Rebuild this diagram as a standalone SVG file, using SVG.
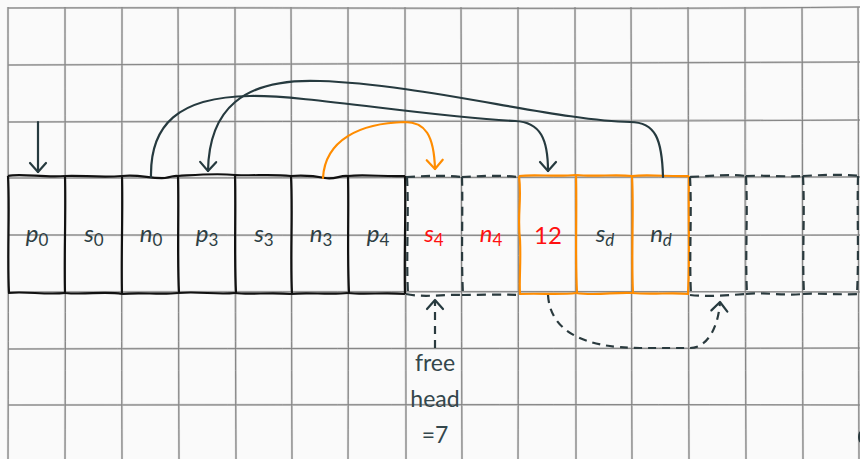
<svg xmlns="http://www.w3.org/2000/svg" width="860" height="459" viewBox="0 0 860 459">
  <style>
    .grid-soft { stroke: #c8c8c8; stroke-width: 2.2; fill: none; }
    .grid-hard { stroke: #7e7e7e; stroke-width: 0.9; fill: none; }
    .solid { fill: none; stroke: #111; stroke-width: 2.2; stroke-linejoin: round; }
    .dash { fill: none; stroke: #2a3a3e; stroke-width: 2.2; stroke-dasharray: 9 6; }
    .orange { fill: none; stroke: #ff8c00; stroke-width: 2.2; stroke-linejoin: round; }
    .lbl { font-family: Lato, "Open Sans", "DejaVu Sans", sans-serif; font-size: 24px; fill: #2e3f44; text-anchor: middle; }
    .it { font-style: italic; }
    .sub { font-size: 17px; }
    .red { fill: #ff1010; }
    .note { font-family: Lato, "Open Sans", "DejaVu Sans", sans-serif; font-size: 23px; fill: #34474c; text-anchor: middle; }
    .link { fill: none; stroke: #263a3f; stroke-width: 2.2; stroke-linecap: round; }
    .link-o { fill: none; stroke: #ff8c00; stroke-width: 2.2; stroke-linecap: round; }
    .link-d { fill: none; stroke: #2a3a3e; stroke-width: 2.2; stroke-dasharray: 8 6; }
  </style>
  <defs>
    <marker id="head" viewBox="-12 -10 14 20" markerWidth="14" markerHeight="20" refX="0" refY="0" orient="auto" markerUnits="userSpaceOnUse">
      <path d="M-9,-8 L0,0 L-9,8" fill="none" stroke="#263a3f" stroke-width="2.2" stroke-linecap="round" stroke-linejoin="round"/>
    </marker>
    <marker id="head-o" viewBox="-12 -10 14 20" markerWidth="14" markerHeight="20" refX="0" refY="0" orient="auto" markerUnits="userSpaceOnUse">
      <path d="M-9,-8 L0,0 L-9,8" fill="none" stroke="#ff8c00" stroke-width="2.2" stroke-linecap="round" stroke-linejoin="round"/>
    </marker>
  </defs>

  <rect width="860" height="459" fill="#fafafa"/>

  <!-- hand-drawn paper grid -->
  <g id="grid">
    <g class="grid-soft">
      <path d="M8,7 C8,150 9,300 8,459"/>
      <path d="M65,7 C65,150 66,300 65,459"/>
      <path d="M122,7 C122,150 121,300 122,459"/>
      <path d="M178,7 C179,150 178,300 179,459"/>
      <path d="M235,7 C235,150 235,300 236,459"/>
      <path d="M291,7 C292,150 291,300 292,459"/>
      <path d="M348,7 C348,150 349,300 348,459"/>
      <path d="M405,7 C405,150 406,300 406,459"/>
      <path d="M461,7 C462,150 461,300 462,459"/>
      <path d="M518,7 C518,150 519,300 518,459"/>
      <path d="M575,7 C575,150 576,300 576,459"/>
      <path d="M631,7 C632,150 631,300 632,459"/>
      <path d="M688,7 C689,150 688,300 689,459"/>
      <path d="M745,7 C745,150 745,300 746,459"/>
      <path d="M802,7 C803,150 802,300 803,459"/>
      <path d="M858,7 C859,150 858,300 859,459"/>
      <path d="M8,8 C300,7 600,10 860,7"/>
      <path d="M8,65 C300,64 600,63 860,62"/>
      <path d="M8,122 C300,121 600,122 860,120"/>
      <path d="M8,178 C300,178 600,177 860,177"/>
      <path d="M8,235 C300,235 600,236 860,235"/>
      <path d="M8,292 C300,292 600,291 860,292"/>
      <path d="M8,349 C300,348 600,349 860,348"/>
      <path d="M8,405 C300,405 600,404 860,405"/>
    </g>
    <g class="grid-hard">
      <path d="M8,7 C8,150 9,300 8,459"/>
      <path d="M65,7 C65,150 66,300 65,459"/>
      <path d="M122,7 C122,150 121,300 122,459"/>
      <path d="M178,7 C179,150 178,300 179,459"/>
      <path d="M235,7 C235,150 235,300 236,459"/>
      <path d="M291,7 C292,150 291,300 292,459"/>
      <path d="M348,7 C348,150 349,300 348,459"/>
      <path d="M405,7 C405,150 406,300 406,459"/>
      <path d="M461,7 C462,150 461,300 462,459"/>
      <path d="M518,7 C518,150 519,300 518,459"/>
      <path d="M575,7 C575,150 576,300 576,459"/>
      <path d="M631,7 C632,150 631,300 632,459"/>
      <path d="M688,7 C689,150 688,300 689,459"/>
      <path d="M745,7 C745,150 745,300 746,459"/>
      <path d="M802,7 C803,150 802,300 803,459"/>
      <path d="M858,7 C859,150 858,300 859,459"/>
      <path d="M8,8 C300,7 600,10 860,7"/>
      <path d="M8,65 C300,64 600,63 860,62"/>
      <path d="M8,122 C300,121 600,122 860,120"/>
      <path d="M8,178 C300,178 600,177 860,177"/>
      <path d="M8,235 C300,235 600,236 860,235"/>
      <path d="M8,292 C300,292 600,291 860,292"/>
      <path d="M8,349 C300,348 600,349 860,348"/>
      <path d="M8,405 C300,405 600,404 860,405"/>
    </g>
  </g>

  <!-- used slots -->
  <g id="cell-p0">
    <path class="solid" d="M8,176 C20,173 45,178 65,176 M8,293 C25,291 45,295 65,293 M8,176 C10,210 7,255 9,293"/>
    <text class="lbl" x="37" y="242"><tspan class="it">p</tspan><tspan class="sub" dy="4">0</tspan></text>
  </g>
  <g id="cell-s0">
    <path class="solid" d="M65,176 C80,175 100,178 122,176 M65,293 C85,295 105,291 122,294 M65,176 C66,215 64,255 65,293"/>
    <text class="lbl" x="94" y="242"><tspan class="it">s</tspan><tspan class="sub" dy="4">0</tspan></text>
  </g>
  <g id="cell-n0">
    <path class="solid" d="M122,176 C140,174 150,179 165,178 C172,177 175,175 178,176 M122,294 C140,292 160,295 178,293 M122,176 C123,215 121,255 122,294"/>
    <text class="lbl" x="151" y="242"><tspan class="it">n</tspan><tspan class="sub" dy="4">0</tspan></text>
  </g>
  <g id="cell-p3">
    <path class="solid" d="M178,176 C195,175 215,173 235,175 M178,293 C200,291 215,295 235,293 M178,176 C179,215 177,255 179,293"/>
    <text class="lbl" x="207" y="242"><tspan class="it">p</tspan><tspan class="sub" dy="4">3</tspan></text>
  </g>
  <g id="cell-s3">
    <path class="solid" d="M235,175 C255,176 270,174 291,176 M235,293 C250,295 270,292 291,294 M235,175 C236,215 234,255 236,293"/>
    <text class="lbl" x="264" y="242"><tspan class="it">s</tspan><tspan class="sub" dy="4">3</tspan></text>
  </g>
  <g id="cell-n3">
    <path class="solid" d="M291,176 C305,175 315,176 325,178 C335,180 340,175 348,176 M291,294 C305,292 330,295 348,293 M291,176 C293,215 290,255 292,294"/>
    <text class="lbl" x="321" y="242"><tspan class="it">n</tspan><tspan class="sub" dy="4">3</tspan></text>
  </g>
  <g id="cell-p4">
    <path class="solid" d="M348,176 C365,174 385,177 405,176 M348,293 C365,295 385,292 405,294 M348,176 C349,215 347,250 349,293 M405,176 C406,215 404,255 405,294"/>
    <text class="lbl" x="378" y="242"><tspan class="it">p</tspan><tspan class="sub" dy="4">4</tspan></text>
  </g>

  <!-- freed slots -->
  <g id="cell-s4">
    <path class="dash" d="M406,177 C425,176 445,175 462,177 M406,294 C425,298 445,294 462,295 M407,177 C409,215 406,255 408,294"/>
    <text class="lbl red" x="434" y="242"><tspan class="it">s</tspan><tspan class="sub" dy="4">4</tspan></text>
  </g>
  <g id="cell-n4">
    <path class="dash" d="M462,177 C480,176 500,175 518,177 M462,295 C480,295 500,294 518,295 M462,177 C463,215 461,255 463,295"/>
    <text class="lbl red" x="491" y="242"><tspan class="it">n</tspan><tspan class="sub" dy="4">4</tspan></text>
  </g>

  <!-- newly allocated block -->
  <g id="cell-12">
    <path class="orange" d="M519,176 C535,174 555,177 576,175 M519,294 C540,293 560,295 576,293 M519,176 C522,200 517,215 520,240 C521,265 519,280 520,294"/>
    <text class="lbl red" x="548" y="244">12</text>
  </g>
  <g id="cell-sd">
    <path class="orange" d="M576,175 C595,177 615,174 632,176 M576,293 C595,296 615,292 632,293 M576,175 C577,215 575,255 577,293"/>
    <text class="lbl" x="605" y="242"><tspan class="it">s</tspan><tspan class="sub it" dy="4">d</tspan></text>
  </g>
  <g id="cell-nd">
    <path class="orange" d="M632,176 C650,174 670,177 689,176 M632,293 C655,295 670,292 689,294 M632,176 C634,210 631,255 633,293 M689,176 C688,215 690,255 688,294"/>
    <text class="lbl" x="661" y="242"><tspan class="it">n</tspan><tspan class="sub it" dy="4">d</tspan></text>
  </g>

  <!-- free tail -->
  <g id="cell-f12">
    <path class="dash" d="M690,177 C710,176 730,174 746,176 M690,295 C710,297 730,295 746,294 M690,177 C692,215 689,255 691,295"/>
  </g>
  <g id="cell-f13">
    <path class="dash" d="M746,176 C765,175 785,177 803,176 M746,294 C765,292 785,296 803,294 M746,176 C748,215 745,255 747,294"/>
  </g>
  <g id="cell-f14">
    <path class="dash" d="M803,176 C820,175 840,174 860,176 M803,294 C820,293 840,295 860,294 M803,176 C805,215 802,255 804,294 M858,176 C857,215 859,255 857,294"/>
  </g>

  <!-- free list head -->
  <g id="free-head">
    <text class="note" x="435" y="371">free</text>
    <text class="note" x="435" y="407">head</text>
    <text class="note" x="435" y="443">=7</text>
  </g>

  <g id="edge-clip">
    <ellipse cx="861" cy="437" rx="3" ry="6" fill="#2a3a3e"/>
  </g>

  <!-- pointers between slots -->
  <g id="connectors">
    <path class="link" d="M38,122 L38,172" marker-end="url(#head)"/>
    <path class="link" d="M151,177 C150,125 178,97 250,96 C305,95 430,117 515,121 C541,122 548,140 548,171" marker-end="url(#head)"/>
    <path class="link" d="M663,177 C662,140 656,122 630,122 C560,121 420,84 320,81 C242,78 209,110 208,171" marker-end="url(#head)"/>
    <path class="link-o" d="M323,178 C325,140 360,123 405,122 C425,122 434,135 435,169" marker-end="url(#head-o)"/>
    <path class="link-d" d="M435,348 L435,300" marker-end="url(#head)"/>
    <path class="link-d" d="M548,295 C550,330 582,348 640,348 L690,348 C706,348 718,330 720,302" marker-end="url(#head)"/>
  </g>
</svg>
